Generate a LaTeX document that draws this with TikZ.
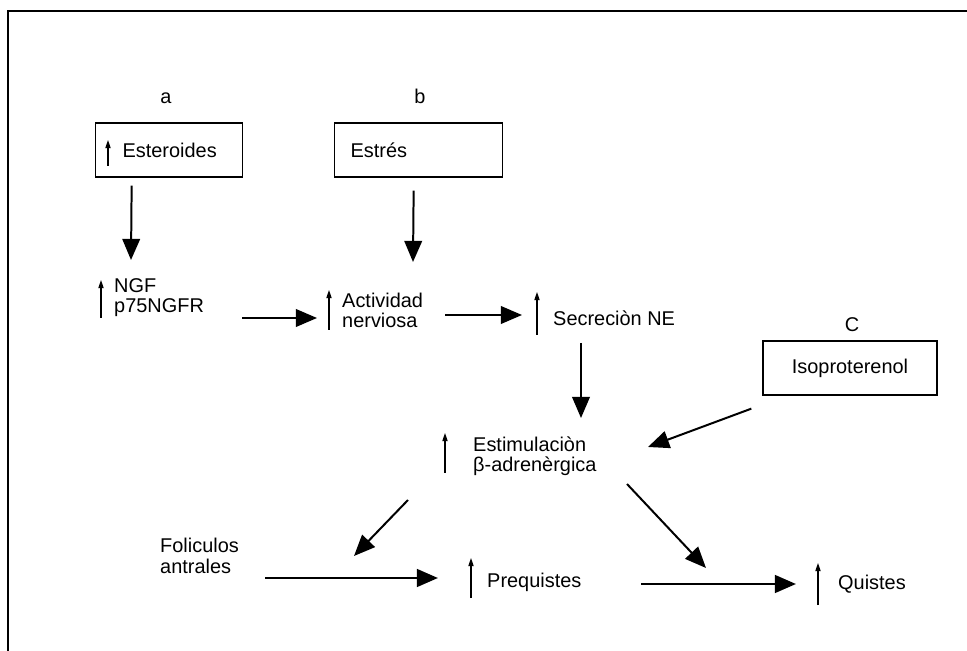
\documentclass[tikz,border=0pt]{standalone}
\usepackage{fontspec}
\setmainfont{Liberation Sans}
\usetikzlibrary{arrows.meta, calc}

\begin{document}
\begin{tikzpicture}[x=0.03cm, y=-0.03cm, >={Triangle[length=18pt,width=15pt]},
	every node/.style={font=\fontsize{17}{17}\selectfont},
	txt/.style={anchor=west, inner sep=0pt, align=left},
	box/.style={draw, line width=1.1pt, minimum height=54*\px, inner sep=0pt},
	link/.style={->, line width=1.7pt},
	heavy/.style={->, line width=2.4pt},
	up/.style={-{Triangle[length=7pt,width=4.5pt]}, line width=0.9pt}]
			\def\px{0.03cm} % one pixel
			
			\useasboundingbox (0,0) rectangle (967,651);
			% Frame
			\draw[line width=1.3pt] (967,11) -- (8,11) -- (8,651);
			
			% Boxes
			\node[box, anchor=west, minimum width=147*\px, inner xsep=27*\px, text width=93*\px] (steroid) at (95,150) {\raisebox{-3pt}{Esteroides}};
			\node[box, anchor=west, minimum width=168*\px, inner xsep=16*\px, text width=136*\px] (stress) at (334,150) {\raisebox{-2pt}{Estrés}};
			\node[box, minimum width=174*\px] (iso) at (850,368) {Isoproterenol};
			\node[anchor=base] (labA) at (166,104) {a};
			\node[anchor=base] (labB) at (420,104) {b};
			\node[anchor=base] (labC) at (852,332) {C};
			
			% Texts
			\node[txt] (ngf) at (114,298) {NGF\\p75NGFR};
			\node[txt] (nerve) at (342,310) {Actividad\\nerviosa};
			\node[txt] (ne) at (553,318) {Secreciòn NE};
			\node[txt] (beta) at (473,456) {Estimulaciòn\\β-adrenèrgica};
			\node[txt] (foll) at (160,556) {Foliculos\\[1pt]antrales};
			\node[txt] (precyst) at (487,582) {Prequistes};
			\node[txt] (cyst) at (838,584) {Quistes};
			
			% Small up arrows
			\draw[up] ($(steroid.west)+(13,16)$) -- ($(steroid.west)+(13,-10)$);
			\draw[up] ($(ngf.west)+(-13,20)$) -- ($(ngf.west)+(-13,-18)$);
			\draw[up] ($(nerve.west)+(-13,20)$) -- ($(nerve.west)+(-13,-20)$);
			\draw[up] ($(ne.west)+(-16,17)$) -- ($(ne.west)+(-16,-26)$);
			\draw[up] ($(beta.west)+(-28,17)$) -- ($(beta.west)+(-28,-23)$);
			\draw[up] ($(precyst.west)+(-16,16)$) -- ($(precyst.west)+(-16,-24)$);
			\draw[up] ($(cyst.west)+(-20,21)$) -- ($(cyst.west)+(-20,-21)$);
			
			% Arrows
			\draw[link] ($(steroid.south)+(-37.5,8)$) -- ($(ngf.west)+(17,-38)$);
			\draw[link] ($(stress.south)+(-5,13)$) -- ($(nerve.west)+(71,-48)$);
			\draw[link] ($(ngf.west)+(128,20)$) -- ($(nerve.west)+(-25,8)$);
			\draw[link] ($(nerve.west)+(103,5)$) -- ($(ne.west)+(-31,-3)$);
			\draw[link] ($(ne.west)+(28,25)$) -- ($(beta.west)+(108,-38)$);
			\draw[link] ($(iso.south west)+(-11,13)$) -- ($(beta.west)+(175,-9)$);
			\draw[link] ($(beta.west)+(-65,44)$) -- ($(foll.west)+(194,0)$);
			\draw[link] ($(beta.west)+(154,28)$) -- ($(cyst.west)+(-132,-16)$);
			\draw[heavy] ($(foll.west)+(105,22)$) -- ($(precyst.west)+(-49,-4)$);
			\draw[heavy] ($(precyst.west)+(154,2)$) -- ($(cyst.west)+(-42,0)$);
			
\end{tikzpicture}
\end{document}
